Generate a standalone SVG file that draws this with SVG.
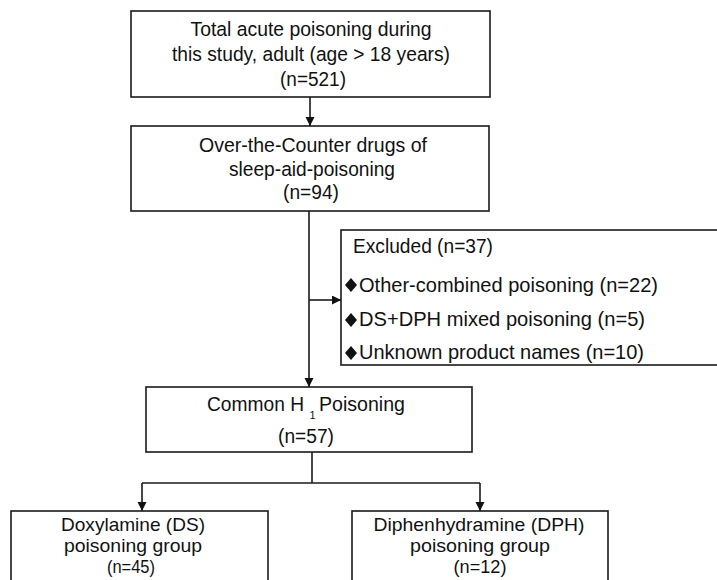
<svg xmlns="http://www.w3.org/2000/svg" width="717" height="580" viewBox="0 0 717 580">
<defs>
<marker id="ah" markerWidth="10" markerHeight="10" refX="9" refY="4.5" orient="auto" markerUnits="userSpaceOnUse">
<path d="M0,0 L9,4.5 L0,9 Z" fill="#111"/>
</marker>
<style>
.box{fill:#fff;stroke:#1a1a1a;stroke-width:1.6}
.t{font-family:"Liberation Sans",Arial,sans-serif;font-size:20.5px;fill:#111;text-anchor:middle}
.s{font-family:"Liberation Sans",Arial,sans-serif;font-size:20.5px;fill:#111}
.sub{font-family:"Liberation Sans",Arial,sans-serif;font-size:11px;fill:#111}
.b{font-size:18.5px}
.e{font-family:"Liberation Sans",Arial,sans-serif;font-size:21px;fill:#111}
.c{fill:none;stroke:#1a1a1a;stroke-width:1.6}
.d{fill:#111}
</style>
</defs>
<rect width="717" height="580" fill="#fff"/>
<g id="connectors">
<line class="c" x1="310" y1="97" x2="310" y2="126" marker-end="url(#ah)"/>
<line class="c" x1="309" y1="211" x2="309" y2="387" marker-end="url(#ah)"/>
<line class="c" x1="309" y1="300" x2="341" y2="300" marker-end="url(#ah)"/>
<polyline class="c" points="312,452 312,483"/>
<line class="c" x1="142" y1="483" x2="480" y2="483"/>
<line class="c" x1="142" y1="483" x2="142" y2="511" marker-end="url(#ah)"/>
<line class="c" x1="480" y1="483" x2="480" y2="511" marker-end="url(#ah)"/>
</g>
<g id="total">
<rect class="box" x="131" y="11" width="359" height="86"/>
<text class="t" x="311" y="36" textLength="241" lengthAdjust="spacingAndGlyphs">Total acute poisoning during</text>
<text class="t" x="311" y="61" textLength="278" lengthAdjust="spacingAndGlyphs">this study, adult (age &gt; 18 years)</text>
<text class="t" x="313" y="86" textLength="66" lengthAdjust="spacingAndGlyphs">(n=521)</text>
</g>
<g id="otc">
<rect class="box" x="131" y="126" width="358" height="85"/>
<text class="t" x="313" y="152" textLength="228" lengthAdjust="spacingAndGlyphs">Over-the-Counter drugs of</text>
<text class="t" x="312" y="176" textLength="166" lengthAdjust="spacingAndGlyphs">sleep-aid-poisoning</text>
<text class="t" x="311" y="199" textLength="56" lengthAdjust="spacingAndGlyphs">(n=94)</text>
</g>
<g id="excluded">
<rect class="box" x="341" y="230" width="400" height="135"/>
<text class="e" x="353" y="253" textLength="140" lengthAdjust="spacingAndGlyphs">Excluded (n=37)</text>
<path class="d" d="M351,278 L357,285 L351,292 L345,285 Z"/>
<text class="e" x="359" y="292" textLength="299" lengthAdjust="spacingAndGlyphs">Other-combined poisoning (n=22)</text>
<path class="d" d="M351,313 L357,320 L351,327 L345,320 Z"/>
<text class="e" x="359" y="326" textLength="286" lengthAdjust="spacingAndGlyphs">DS+DPH mixed poisoning (n=5)</text>
<path class="d" d="M351,346 L357,353 L351,360 L345,353 Z"/>
<text class="e" x="359" y="359" textLength="285" lengthAdjust="spacingAndGlyphs">Unknown product names (n=10)</text>
</g>
<g id="common">
<rect class="box" x="146" y="387" width="326" height="65"/>
<text class="s" x="207" y="411" textLength="97" lengthAdjust="spacingAndGlyphs">Common H</text>
<text class="sub" x="309.5" y="419">1</text>
<text class="s" x="319" y="411" textLength="86" lengthAdjust="spacingAndGlyphs">Poisoning</text>
<text class="t" x="306" y="443" textLength="56" lengthAdjust="spacingAndGlyphs">(n=57)</text>
</g>
<g id="ds">
<rect class="box" x="11" y="511" width="257" height="90"/>
<text class="t b" x="133" y="531" textLength="144" lengthAdjust="spacingAndGlyphs">Doxylamine (DS)</text>
<text class="t b" x="133" y="552" textLength="138" lengthAdjust="spacingAndGlyphs">poisoning group</text>
<text class="t b" x="131" y="573" textLength="48" lengthAdjust="spacingAndGlyphs">(n=45)</text>
</g>
<g id="dph">
<rect class="box" x="352" y="511" width="256" height="90"/>
<text class="t b" x="479" y="531" textLength="211" lengthAdjust="spacingAndGlyphs">Diphenhydramine (DPH)</text>
<text class="t b" x="480" y="552" textLength="140" lengthAdjust="spacingAndGlyphs">poisoning group</text>
<text class="t b" x="480" y="573" textLength="53" lengthAdjust="spacingAndGlyphs">(n=12)</text>
</g>
</svg>
